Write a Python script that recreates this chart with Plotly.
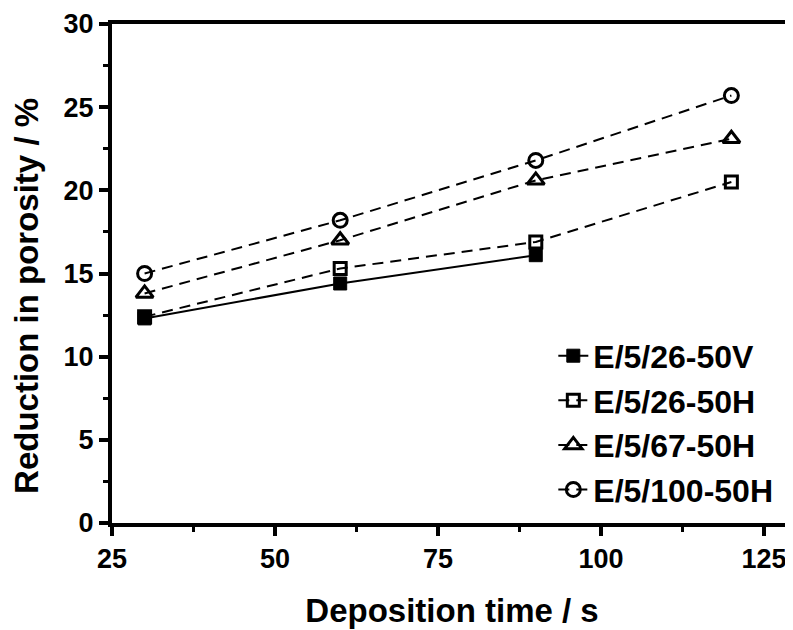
import plotly.graph_objects as go

time_v = [30, 60, 90]
red_26_50V = [12.3, 14.4, 16.1]
time_h = [30, 60, 90, 120]
red_26_50H = [12.4, 15.3, 16.9, 20.5]
red_67_50H = [13.8, 17.0, 20.6, 23.1]
red_100_50H = [15.0, 18.2, 21.8, 25.7]

names = ["E/5/26-50V", "E/5/26-50H", "E/5/67-50H", "E/5/100-50H"]
x_ticks = [25, 50, 75, 100, 125]
y_ticks = [0, 5, 10, 15, 20, 25, 30]

FONT = "Liberation Sans, Arial, sans-serif"
DASH = "11px,7px"

fig = go.Figure()
fig.add_trace(go.Scatter(
    x=time_v, y=red_26_50V, name=names[0], mode="lines+markers",
    line=dict(color="black", width=2),
    marker=dict(symbol="square", size=13, color="black", line=dict(color="black", width=1)),
    legendgroup="a"))
fig.add_trace(go.Scatter(
    x=time_h, y=red_26_50H, name=names[1], mode="lines+markers",
    line=dict(color="black", width=2, dash=DASH),
    marker=dict(symbol="square-open", size=12, color="black", line=dict(color="black", width=3)),
    legendgroup="b"))
fig.add_trace(go.Scatter(
    x=time_h, y=red_67_50H, name=names[2], mode="lines+markers",
    line=dict(color="black", width=2, dash=DASH),
    marker=dict(symbol="triangle-up-open", size=15, color="black", line=dict(color="black", width=3)),
    legendgroup="c"))
fig.add_trace(go.Scatter(
    x=time_h, y=red_100_50H, name=names[3], mode="lines+markers",
    line=dict(color="black", width=2, dash=DASH),
    marker=dict(symbol="circle-open", size=14, color="black", line=dict(color="black", width=3)),
    legendgroup="d"))

fig.update_layout(
    width=785, height=622,
    margin=dict(l=104, r=1, t=12, b=107),
    paper_bgcolor="white", plot_bgcolor="white",
    font=dict(family=FONT, color="black", weight="bold"),
    showlegend=True,
    legend=dict(
        x=0.649, y=0.39, xanchor="left", yanchor="top",
        bgcolor="rgba(0,0,0,0)", borderwidth=0,
        font=dict(family=FONT, size=32, color="black", weight="bold"),
        traceorder="grouped", tracegroupgap=0,
        itemwidth=30,
    ),
    xaxis=dict(
        range=[25, 129.3], tickvals=x_ticks, ticktext=[str(v) for v in x_ticks],
        showgrid=False, zeroline=False,
        showline=True, linecolor="black", linewidth=4, mirror=True,
        ticks="outside", ticklen=9, tickwidth=4, tickcolor="black",
        ticklabeloverflow="allow",
        tickfont=dict(family=FONT, size=27, color="black", weight="bold"),
        minor=dict(dtick=12.5, tick0=25, ticks="outside", ticklen=5, tickwidth=3, tickcolor="black", showgrid=False),
        title=dict(text="Deposition time / s", font=dict(family=FONT, size=33, color="black", weight="bold"), standoff=26),
    ),
    yaxis=dict(
        range=[0, 30], tickvals=y_ticks, ticktext=[str(v) for v in y_ticks],
        showgrid=False, zeroline=False,
        showline=True, linecolor="black", linewidth=4,
        ticks="outside", ticklen=9, tickwidth=4, tickcolor="black",
        ticklabeloverflow="allow",
        tickfont=dict(family=FONT, size=27, color="black", weight="bold"),
        minor=dict(dtick=2.5, tick0=0, ticks="outside", ticklen=5, tickwidth=3, tickcolor="black", showgrid=False),
    ),
    annotations=[dict(
        text="Reduction in porosity / %", textangle=-90,
        xref="paper", yref="paper", x=-0.125, y=0.455, xanchor="center", yanchor="middle",
        showarrow=False, font=dict(family=FONT, size=33, color="black", weight="bold"),
    )],
    shapes=[dict(type="line", xref="paper", yref="paper", x0=1, x1=1, y0=0, y1=1,
                 line=dict(color="#999999", width=1))],
)

fig.write_html("out.html")
